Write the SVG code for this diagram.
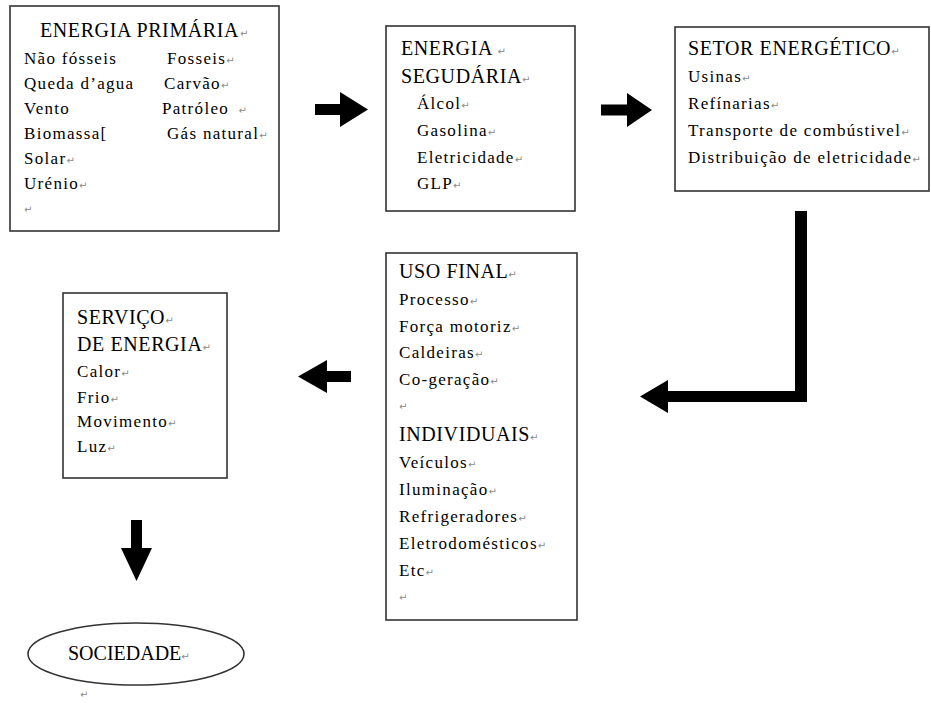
<svg xmlns="http://www.w3.org/2000/svg" width="931" height="704" viewBox="0 0 931 704">
  <style>
    .box { fill: #fff; stroke: #333; stroke-width: 1.6; }
    .t { font-family: "Liberation Serif", "Times New Roman", serif; font-size: 20px; letter-spacing: 0.6px; fill: #000; }
    .b { font-family: "Liberation Serif", "Times New Roman", serif; font-size: 17px; letter-spacing: 1.3px; fill: #000; }
    .p { font-family: "DejaVu Sans", sans-serif; font-size: 10px; letter-spacing: 0; fill: #8a8a8a; }
    .arrow { fill: #000; }
  </style>
  <rect width="931" height="704" fill="#fff"/>

  <g id="energia-primaria">
    <rect class="box" x="10" y="6" width="269" height="225"/>
    <text class="t" x="40" y="37">ENERGIA PRIMÁRIA<tspan class="p" dx="1">↵</tspan></text>
    <text class="b" x="24" y="64">Não fósseis</text>
    <text class="b" x="167" y="64">Fosseis<tspan class="p">↵</tspan></text>
    <text class="b" x="24" y="89">Queda d’agua</text>
    <text class="b" x="164" y="89">Carvão<tspan class="p">↵</tspan></text>
    <text class="b" x="24" y="114">Vento</text>
    <text class="b" x="162" y="114">Patróleo <tspan class="p" dx="4">↵</tspan></text>
    <text class="b" x="24" y="139">Biomassa[</text>
    <text class="b" x="167" y="139">Gás natural<tspan class="p">↵</tspan></text>
    <text class="b" x="24" y="164">Solar<tspan class="p">↵</tspan></text>
    <text class="b" x="24" y="189">Urénio<tspan class="p">↵</tspan></text>
    <text class="p" x="24" y="213">↵</text>
  </g>

  <g id="energia-secundaria">
    <rect class="box" x="386" y="26" width="189" height="185"/>
    <text class="t" x="401" y="55">ENERGIA <tspan class="p">↵</tspan></text>
    <text class="t" x="401" y="83">SEGUDÁRIA<tspan class="p">↵</tspan></text>
    <text class="b" x="417" y="109">Álcol<tspan class="p">↵</tspan></text>
    <text class="b" x="417" y="136">Gasolina<tspan class="p">↵</tspan></text>
    <text class="b" x="417" y="163">Eletricidade<tspan class="p">↵</tspan></text>
    <text class="b" x="417" y="189">GLP<tspan class="p">↵</tspan></text>
  </g>

  <g id="setor-energetico">
    <rect class="box" x="675" y="27" width="254" height="164"/>
    <text class="t" x="688" y="55">SETOR ENERGÉTICO<tspan class="p">↵</tspan></text>
    <text class="b" x="688" y="82">Usinas<tspan class="p">↵</tspan></text>
    <text class="b" x="688" y="109">Refínarias<tspan class="p">↵</tspan></text>
    <text class="b" x="688" y="136">Transporte de combústivel<tspan class="p">↵</tspan></text>
    <text class="b" x="688" y="163">Distribuição de eletricidade<tspan class="p">↵</tspan></text>
  </g>

  <g id="uso-final">
    <rect class="box" x="386" y="253" width="191" height="367"/>
    <text class="t" x="399" y="278">USO FINAL<tspan class="p">↵</tspan></text>
    <text class="b" x="399" y="305">Processo<tspan class="p">↵</tspan></text>
    <text class="b" x="399" y="332">Força motoriz<tspan class="p">↵</tspan></text>
    <text class="b" x="399" y="358">Caldeiras<tspan class="p">↵</tspan></text>
    <text class="b" x="399" y="385">Co-geração<tspan class="p">↵</tspan></text>
    <text class="p" x="399" y="410">↵</text>
    <text class="t" x="399" y="441">INDIVIDUAIS<tspan class="p">↵</tspan></text>
    <text class="b" x="399" y="468">Veículos<tspan class="p">↵</tspan></text>
    <text class="b" x="399" y="495">Iluminação<tspan class="p">↵</tspan></text>
    <text class="b" x="399" y="522">Refrigeradores<tspan class="p">↵</tspan></text>
    <text class="b" x="399" y="549">Eletrodomésticos<tspan class="p">↵</tspan></text>
    <text class="b" x="399" y="576">Etc<tspan class="p">↵</tspan></text>
    <text class="p" x="399" y="601">↵</text>
  </g>

  <g id="servico-de-energia">
    <rect class="box" x="63" y="293" width="164" height="185"/>
    <text class="t" x="77" y="324">SERVIÇO<tspan class="p">↵</tspan></text>
    <text class="t" x="77" y="351">DE ENERGIA<tspan class="p">↵</tspan></text>
    <text class="b" x="77" y="377">Calor<tspan class="p">↵</tspan></text>
    <text class="b" x="77" y="403">Frio<tspan class="p">↵</tspan></text>
    <text class="b" x="77" y="427">Movimento<tspan class="p">↵</tspan></text>
    <text class="b" x="77" y="452">Luz<tspan class="p">↵</tspan></text>
  </g>

  <g id="sociedade">
    <ellipse class="box" cx="136" cy="654" rx="108" ry="31"/>
    <text class="t" x="68" y="660" style="letter-spacing:0">SOCIEDADE<tspan class="p">↵</tspan></text>
    <text class="p" x="80" y="698">↵</text>
  </g>

  <g id="connectors">
    <!-- primária -> secundária -->
    <polygon class="arrow" points="315,104 340,104 340,92 368,109.5 340,127 340,115 315,115"/>
    <!-- secundária -> setor energético -->
    <polygon class="arrow" points="601,104.5 627,104.5 627,93 652,110 627,127 627,115.5 601,115.5"/>
    <!-- setor energético -> uso final (elbow) -->
    <polygon class="arrow" points="795,211 807,211 807,402 668,402 668,413 640,396.5 668,380 668,391 795,391"/>
    <!-- uso final -> serviço de energia -->
    <polygon class="arrow" points="351,371 327,371 327,360 298,376.5 327,393 327,382 351,382"/>
    <!-- serviço de energia -> sociedade -->
    <polygon class="arrow" points="131,520 142,520 142,548 152,548 136.5,581 121,548 131,548"/>
  </g>
</svg>
